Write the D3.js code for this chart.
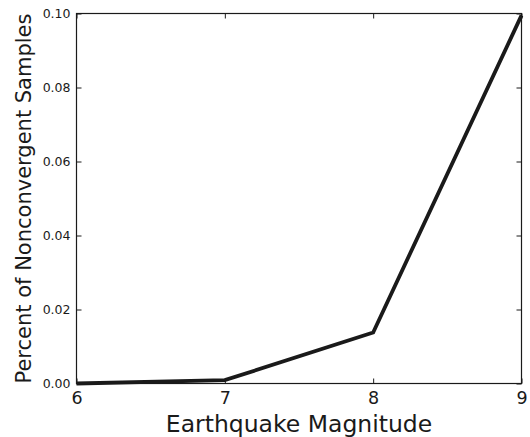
<!DOCTYPE html>
<html><head><meta charset="utf-8">
<script src="https://cdn.jsdelivr.net/npm/d3@7"></script>
<style>body{margin:0;background:#fff;} svg{display:block;} text{font-family:"DejaVu Sans",sans-serif;fill:#1a1a1a;}</style>
</head><body><svg id="c" width="530" height="437"></svg>
<script>
const magnitudes = [6, 7, 8, 9];
const percents = [0.0, 0.0009, 0.0138, 0.0995];
const xTicks = [6, 7, 8, 9];
const yTicks = [0.00, 0.02, 0.04, 0.06, 0.08, 0.10];
const xTitle = "Earthquake Magnitude";
const yTitle = "Percent of Nonconvergent Samples";

const svg = d3.select("#c");
const L = 76.5, R = 521.5, T = 13.5, B = 383.5;
const x = d3.scaleLinear().domain([6, 9]).range([L, R]);
const y = d3.scaleLinear().domain([0, 0.10]).range([B, T]);

// frame
svg.append("rect").attr("x", L).attr("y", T).attr("width", R - L).attr("height", B - T)
  .attr("fill", "none").attr("stroke", "#1a1a1a").attr("stroke-width", 1.2);

// axes with inside ticks
const ax = (g, axis) => { g.call(axis); g.select(".domain").remove(); g.selectAll("line").attr("stroke", "#1a1a1a"); };
svg.append("g").attr("transform", `translate(0,${B})`)
  .call(g => ax(g, d3.axisBottom(x).tickValues(xTicks).tickSize(-5).tickPadding(8).tickFormat(d3.format("d"))))
  .selectAll("text").attr("font-size", 17.5).attr("font-family", "DejaVu Sans").attr("fill", "#1a1a1a").attr("dy", "0.71em");
svg.append("g").attr("transform", `translate(0,${T})`)
  .call(g => ax(g, d3.axisTop(x).tickValues(xTicks).tickSize(-5).tickFormat("")));
svg.append("g").attr("transform", `translate(${L},0)`)
  .call(g => ax(g, d3.axisLeft(y).tickValues(yTicks).tickSize(-5).tickPadding(6).tickFormat(d3.format(".2f"))))
  .selectAll("text").attr("font-size", 12.5).attr("font-family", "DejaVu Sans").attr("fill", "#1a1a1a");
svg.append("g").attr("transform", `translate(${R},0)`)
  .call(g => ax(g, d3.axisRight(y).tickValues(yTicks).tickSize(-5).tickFormat("")));

// line
const data = magnitudes.map((m, i) => [m, percents[i]]);
svg.append("path").datum(data)
  .attr("d", d3.line().x(d => x(d[0])).y(d => y(d[1])))
  .attr("fill", "none").attr("stroke", "#1a1a1a").attr("stroke-width", 3.8)
  .attr("stroke-linejoin", "miter");

// titles
svg.append("text").attr("x", (L + R) / 2).attr("y", 432).attr("text-anchor", "middle")
  .attr("font-size", 23.5).text(xTitle);
svg.append("text").attr("transform", `translate(31,${(T + B) / 2}) rotate(-90)`)
  .attr("text-anchor", "middle").attr("font-size", 21).text(yTitle);
</script></body></html>
